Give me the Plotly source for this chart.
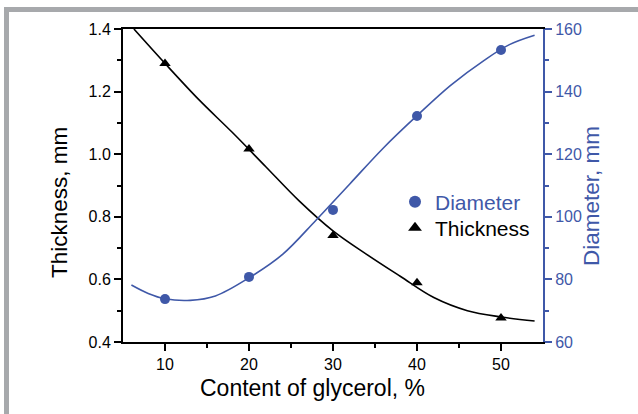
import plotly.graph_objects as go

# Measured data
glycerol = [10, 20, 30, 40, 50]
thickness = [1.29, 1.017, 0.740, 0.589, 0.477]
diameter = [73.7, 80.8, 102.2, 132.2, 153.3]

# Fitted curves
thick_fit_x = [6.3, 10, 14, 18, 22, 26, 30, 34, 38, 42, 46, 50, 54]
thick_fit_y = [1.40, 1.29, 1.175, 1.07, 0.96, 0.85, 0.755, 0.68, 0.61, 0.542, 0.50, 0.48, 0.467]
diam_fit_x = [6, 8, 10, 13, 16, 20, 24, 28, 32, 36, 40, 44, 48, 51, 54]
diam_fit_y = [78.2, 75.5, 73.8, 73.3, 74.7, 80.5, 88, 99, 110.5, 122, 132.3, 142, 150, 155, 158]

x_title = "Content of glycerol, %"
y_title = "Thickness, mm"
y2_title = "Diameter, mm"

BLUE = "#3F58A8"
GRAY = "#A7A9AC"
FONT = "Liberation Sans, Arial, sans-serif"

fig = go.Figure()
fig.add_trace(go.Scatter(x=thick_fit_x, y=thick_fit_y, mode="lines", line=dict(color="black", width=1.6, shape="spline"),
                         showlegend=False, hoverinfo="skip"))
fig.add_trace(go.Scatter(x=diam_fit_x, y=diam_fit_y, mode="lines", line=dict(color=BLUE, width=1.6, shape="spline"),
                         showlegend=False, hoverinfo="skip", yaxis="y2"))
fig.add_trace(go.Scatter(x=glycerol, y=diameter, mode="markers", name="<span style='color:%s'>Diameter</span>" % BLUE,
                         marker=dict(symbol="circle", size=10, color=BLUE), yaxis="y2", legend="legend"))
fig.add_trace(go.Scatter(x=glycerol, y=thickness, mode="markers", name="Thickness",
                         marker=dict(symbol="triangle-up", size=10, color="black"), legend="legend2"))

L, R, T, B = 123, 95, 29, 72
W, H = 638, 414
pw, ph = W - L - R, H - T - B

def px2x(p):
    return (p - L) / pw

def px2y(p):
    return (H - B - p) / ph

shapes = [
    dict(type="rect", xref="paper", yref="paper", x0=px2x(4), x1=px2x(W + 2), y0=px2y(12), y1=px2y(7),
         fillcolor=GRAY, line=dict(width=0), layer="above"),
    dict(type="rect", xref="paper", yref="paper", x0=px2x(4), x1=px2x(9), y0=px2y(H + 2), y1=px2y(7),
         fillcolor=GRAY, line=dict(width=0), layer="above"),
]

annotations = [
    dict(text=x_title, xref="paper", yref="paper", x=px2x(312), y=px2y(388), xanchor="center", yanchor="middle",
         showarrow=False, font=dict(size=23, color="black", family=FONT)),
    dict(text=y_title, xref="paper", yref="paper", x=px2x(59), y=px2y(203), xanchor="center", yanchor="middle",
         textangle=-90, showarrow=False, font=dict(size=22.5, color="black", family=FONT)),
    dict(text=y2_title, xref="paper", yref="paper", x=px2x(592), y=px2y(196), xanchor="center", yanchor="middle",
         textangle=-90, showarrow=False, font=dict(size=22.5, color=BLUE, family=FONT)),
]

leg_common = dict(xanchor="left", yanchor="middle", font=dict(size=21, family=FONT),
                  bgcolor="rgba(0,0,0,0)", itemsizing="constant")

fig.update_layout(
    width=W, height=H,
    margin=dict(l=L, r=R, t=T, b=B),
    paper_bgcolor="white", plot_bgcolor="white",
    font=dict(family=FONT, size=16, color="black"),
    shapes=shapes,
    annotations=annotations,
    showlegend=True,
    legend=dict(x=px2x(395), y=px2y(202), **leg_common),
    legend2=dict(x=px2x(395), y=px2y(228), **leg_common),
    xaxis=dict(range=[5, 55], tickvals=[10, 20, 30, 40, 50], ticks="outside", ticklen=7, tickwidth=2,
               tickcolor="black", showline=True, linecolor="black", linewidth=2, mirror=True,
               showgrid=False, zeroline=False, tickfont=dict(size=16),
               minor=dict(tickvals=[15, 25, 35, 45], ticks="outside", ticklen=4, tickwidth=2, tickcolor="black")),
    yaxis=dict(range=[0.4, 1.4], tickvals=[0.4, 0.6, 0.8, 1.0, 1.2, 1.4],
               ticktext=["0.4", "0.6", "0.8", "1.0", "1.2", "1.4"], ticks="outside", ticklen=7, tickwidth=2,
               tickcolor="black", showline=True, linecolor="black", linewidth=2, showgrid=False, zeroline=False,
               tickfont=dict(size=16),
               minor=dict(tickvals=[0.5, 0.7, 0.9, 1.1, 1.3], ticks="outside", ticklen=4, tickwidth=2, tickcolor="black")),
    yaxis2=dict(range=[60, 160], tickvals=[60, 80, 100, 120, 140, 160], overlaying="y", side="right",
                ticks="outside", ticklen=7, tickwidth=2, tickcolor=BLUE, showline=True, linecolor=BLUE, linewidth=2,
                showgrid=False, zeroline=False, tickfont=dict(size=16, color=BLUE),
                minor=dict(tickvals=[70, 90, 110, 130, 150], ticks="outside", ticklen=4, tickwidth=2, tickcolor=BLUE)),
)

fig.write_html("out.html")
